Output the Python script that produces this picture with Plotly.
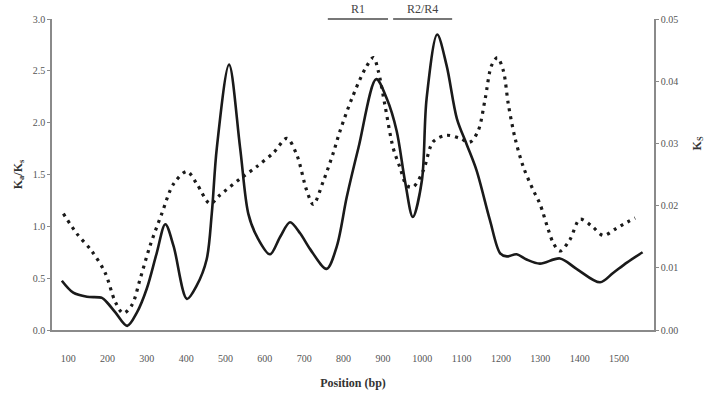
import plotly.graph_objects as go

# Ka/Ks (solid, left axis)
ka_pos = [84, 113, 148, 186, 198, 220, 250, 275, 300, 325, 347, 368, 402, 427, 452, 465, 478,
          509, 537, 558, 580, 613, 639, 664, 690, 715, 757, 783, 808, 838, 883, 910, 935, 956,
          976, 999, 1011, 1038, 1062, 1088, 1113, 1138, 1172, 1198, 1215, 1240, 1265, 1299,
          1350, 1392, 1452, 1485, 1520, 1560]
ka_ks = [0.475, 0.36, 0.32, 0.31, 0.27, 0.17, 0.04, 0.17, 0.40, 0.74, 1.02, 0.81, 0.30, 0.43,
         0.68, 1.12, 1.76, 2.56, 1.76, 1.12, 0.90, 0.73, 0.90, 1.04, 0.93, 0.78, 0.59, 0.81,
         1.28, 1.76, 2.42, 2.23, 1.92, 1.44, 1.09, 1.44, 2.23, 2.85, 2.55, 2.04, 1.79, 1.54,
         1.06, 0.74, 0.71, 0.73, 0.68, 0.64, 0.69, 0.59, 0.46, 0.55, 0.65, 0.75]

# Ks (dotted, right axis)
ks_pos = [88, 122, 160, 194, 220, 240, 262, 283, 308, 338, 368, 402, 427, 461, 486, 537, 580,
          622, 656, 681, 706, 723, 749, 774, 791, 821, 855, 876, 888, 905, 926, 943, 961, 977,
          1003, 1028, 1062, 1096, 1121, 1142, 1160, 1176, 1191, 1206, 1219, 1236, 1257, 1282,
          1299, 1320, 1333, 1350, 1375, 1401, 1431, 1460, 1490, 1511, 1541]
ks = [0.0187, 0.0155, 0.0127, 0.0092, 0.0045, 0.0027, 0.0040, 0.0082, 0.0135, 0.0187, 0.0235,
      0.0255, 0.0235, 0.0203, 0.0217, 0.0243, 0.0263, 0.0285, 0.0308, 0.0282, 0.0225, 0.0202,
      0.0240, 0.0285, 0.0320, 0.0372, 0.0420, 0.0438, 0.0417, 0.0362, 0.0293, 0.0262, 0.0232,
      0.0230, 0.0257, 0.0303, 0.0313, 0.0308, 0.0302, 0.0320, 0.0372, 0.0425, 0.0438, 0.0417,
      0.0362, 0.0308, 0.0262, 0.0225, 0.0203, 0.0162, 0.0140, 0.0127, 0.0145, 0.0178, 0.0167,
      0.0152, 0.0162, 0.0170, 0.0180]

x_ticks = [100, 200, 300, 400, 500, 600, 700, 800, 900, 1000, 1100, 1200, 1300, 1400, 1500]
left_ticks = [0.0, 0.5, 1.0, 1.5, 2.0, 2.5, 3.0]
right_ticks = [0.00, 0.01, 0.02, 0.03, 0.04, 0.05]

regions = ["R1", "R2/R4"]
region_start = [760, 926]
region_end = [913, 1076]

FONT = "Liberation Serif, Times New Roman, serif"
AXC = "#8a8a8a"
TXC = "#555555"

fig = go.Figure()
fig.add_trace(go.Scatter(x=ka_pos, y=ka_ks, mode="lines", yaxis="y",
                         line=dict(color="#1a1a1a", width=2.6, shape="spline", smoothing=0.9),
                         showlegend=False))
fig.add_trace(go.Scatter(x=ks_pos, y=ks, mode="lines", yaxis="y2",
                         line=dict(color="#1a1a1a", width=3.2, shape="spline", smoothing=0.9,
                                   dash="3px,5px"),
                         showlegend=False))

for name, s, e in zip(regions, region_start, region_end):
    fig.add_shape(type="line", xref="x", yref="paper", x0=s, x1=e, y0=1.0, y1=1.0,
                  line=dict(color="#777777", width=2))
    fig.add_annotation(x=(s + e) / 2, y=1.0, xref="x", yref="paper", text=name,
                       showarrow=False, yanchor="bottom", yshift=1,
                       font=dict(family=FONT, size=12, color="#444444"))

fig.add_annotation(x=1.0, y=0.6, xref="paper", yref="paper", text="<b>K<sub>S</sub></b>",
                   showarrow=False, textangle=-90, xanchor="center", xshift=44,
                   font=dict(family=FONT, size=12, color="#333"))

fig.update_layout(
    width=713, height=400,
    margin=dict(l=52, r=59, t=19, b=65),
    paper_bgcolor="white", plot_bgcolor="white",
    font=dict(family=FONT, size=10, color=TXC),
    xaxis=dict(range=[59, 1589], tickvals=x_ticks, ticktext=[str(v) for v in x_ticks],
               showgrid=False, zeroline=False, showline=True, linecolor=AXC, linewidth=1.5,
               ticks="", ticklabelstandoff=18, tickfont=dict(family=FONT, size=10, color=TXC),
               title=dict(text="<b>Position (bp)</b>", standoff=16,
                          font=dict(family=FONT, size=12, color="#333"))),
    yaxis=dict(range=[0, 3.0], tickvals=left_ticks, ticktext=[f"{v:.1f}" for v in left_ticks],
               showgrid=False, zeroline=False, showline=True, linecolor=AXC, linewidth=1.5,
               ticks="outside", ticklen=3, tickcolor=AXC,
               tickfont=dict(family=FONT, size=10, color=TXC),
               title=dict(text="<b>K<sub>a</sub>/K<sub>s</sub></b>", standoff=8,
                          font=dict(family=FONT, size=12, color="#333"))),
    yaxis2=dict(range=[0, 0.05], tickvals=right_ticks, ticktext=[f"{v:.2f}" for v in right_ticks],
                overlaying="y", side="right", showgrid=False, zeroline=False, showline=True,
                linecolor=AXC, linewidth=1.5, ticks="outside", ticklen=3, tickcolor=AXC,
                tickfont=dict(family=FONT, size=10, color=TXC)),
)

fig.write_html("out.html")
